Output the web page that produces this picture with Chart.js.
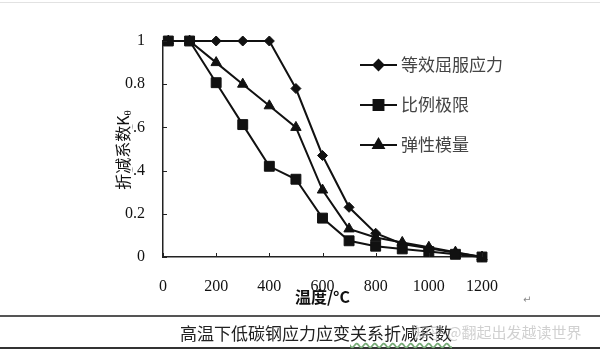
<!DOCTYPE html>
<html>
<head>
<meta charset="utf-8">
<script src="https://cdn.jsdelivr.net/npm/chart.js@4.4.1/dist/chart.umd.min.js"></script>
<style>
  html, body { margin: 0; padding: 0; background: #fff; }
  #wrap { position: relative; width: 600px; height: 354px; overflow: hidden; }
  #chart { position: absolute; left: 0; top: 0; }
  .rule { position: absolute; left: 0; width: 600px; }
  #topRule { top: 2px; height: 1px; background: #e2e2e2; }
  #midRule { top: 315px; height: 2px; background: #555; }
  #botRule { top: 347px; height: 2px; background: #333; }
  #caption {
    position: absolute; left: 180px; top: 320px; white-space: nowrap;
    font: 17px "Noto Sans CJK SC", sans-serif; color: #222;
  }
  #caption .wavy { text-decoration: underline wavy #7a7; text-underline-offset: 2px; }
  #watermark {
    position: absolute; left: 414px; top: 321px; white-space: nowrap;
    font: 15px "Noto Sans CJK SC", sans-serif; color: rgba(170,170,170,0.55);
  }
  #para { position: absolute; left: 523px; top: 294px; font: 10px "DejaVu Sans", sans-serif; color: #888; }
</style>
</head>
<body>
<div id="wrap">
  <canvas id="chart" width="600" height="354"></canvas>
  <div class="rule" id="topRule"></div>
  <div class="rule" id="midRule"></div>
  <div class="rule" id="botRule"></div>
  <div id="caption">高温下低碳钢应力应变<span class="wavy">关系折减系数</span></div>
  <div id="watermark">知乎 @翻起出发越读世界</div>
  <div id="para">↵</div>
</div>
<script>
// ===== Data =====
const temps = [20, 100, 200, 300, 400, 500, 600, 700, 800, 900, 1000, 1100, 1200];
const yieldK = [1, 1, 1, 1, 1, 0.78, 0.47, 0.23, 0.11, 0.06, 0.04, 0.02, 0];
const propK = [1, 1, 0.807, 0.613, 0.42, 0.36, 0.18, 0.075, 0.05, 0.0375, 0.025, 0.0125, 0];
const elasticK = [1, 1, 0.9, 0.8, 0.7, 0.6, 0.31, 0.13, 0.09, 0.0675, 0.045, 0.0225, 0];
const seriesNames = ['等效屈服应力', '比例极限', '弹性模量'];
const xTitle = '温度/°C';
const yTitle = '折减系数K';

const CJK = '"Noto Sans CJK SC", sans-serif';
const SERIF = '"Liberation Serif", "DejaVu Serif", serif';

function toPoints(vals) {
  return temps.map((t, i) => ({ x: t, y: vals[i] }));
}

function makeSet(label, vals, style, radius) {
  return {
    label,
    data: toPoints(vals),
    borderColor: '#111',
    backgroundColor: '#111',
    borderWidth: 2,
    pointStyle: style,
    pointRadius: radius,
    pointBorderWidth: 1,
    pointBackgroundColor: '#111',
    pointBorderColor: '#111',
    tension: 0,
    clip: false
  };
}

// ===== Extras: inward ticks, axis titles, legend =====
const extras = {
  id: 'extras',
  afterDraw(chart) {
    const ctx = chart.ctx;
    const xs = chart.scales.x, ys = chart.scales.y;
    const area = chart.chartArea;
    ctx.save();

    // inward tick marks
    ctx.strokeStyle = '#222';
    ctx.lineWidth = 1;
    xs.ticks.forEach(t => {
      const px = Math.round(xs.getPixelForValue(t.value)) + 0.5;
      ctx.beginPath(); ctx.moveTo(px, area.bottom); ctx.lineTo(px, area.bottom - 4); ctx.stroke();
    });
    ys.ticks.forEach(t => {
      const py = Math.round(ys.getPixelForValue(t.value)) + 0.5;
      ctx.beginPath(); ctx.moveTo(area.left, py); ctx.lineTo(area.left + 4, py); ctx.stroke();
    });

    // x title
    ctx.fillStyle = '#111';
    ctx.font = 'bold 16px ' + CJK;
    ctx.textAlign = 'center';
    ctx.textBaseline = 'middle';
    ctx.fillText(xTitle, (area.left + area.right) / 2, 297);

    // y title (rotated, with subscript theta), white behind like the original
    ctx.save();
    ctx.translate(123, 150);
    ctx.rotate(-Math.PI / 2);
    ctx.font = '16px ' + CJK;
    const mainW = ctx.measureText(yTitle).width;
    ctx.font = '11px ' + SERIF;
    const subW = ctx.measureText('θ').width;
    const total = mainW + subW;
    ctx.fillStyle = '#fff';
    ctx.fillRect(-total / 2 - 1, -9, total + 2, 18);
    ctx.fillStyle = '#111';
    ctx.textAlign = 'left';
    ctx.font = '16px ' + CJK;
    ctx.fillText(yTitle, -total / 2, 0);
    ctx.font = '11px ' + SERIF;
    ctx.fillText('θ', -total / 2 + mainW, 5);
    ctx.restore();

    // legend: diamond, square, triangle
    const order = [1, 0, 2];
    order.forEach((di, k) => {
      const ds = chart.data.datasets[di];
      const y = 65 + k * 40;
      ctx.strokeStyle = '#111';
      ctx.lineWidth = 2;
      ctx.beginPath(); ctx.moveTo(360, y); ctx.lineTo(397, y); ctx.stroke();
      ctx.fillStyle = '#111';
      Chart.helpers.drawPoint(ctx, { pointStyle: ds.pointStyle, radius: ds.pointRadius, rotation: 0, borderWidth: 1 }, 378.5, y);
      ctx.fillStyle = '#444';
      ctx.font = '17px ' + CJK;
      ctx.textAlign = 'left';
      ctx.textBaseline = 'middle';
      ctx.fillText(ds.label, 401, y);
    });
    ctx.restore();
  }
};

// ===== Chart =====
new Chart(document.getElementById('chart'), {
  type: 'line',
  data: {
    datasets: [
      makeSet(seriesNames[1], propK, 'rect', 7),
      makeSet(seriesNames[0], yieldK, 'rectRot', 5),
      makeSet(seriesNames[2], elasticK, 'triangle', 6)
    ]
  },
  options: {
    responsive: false,
    animation: false,
    events: [],
    layout: { padding: { left: 103, right: 118, top: 41, bottom: 37 } },
    plugins: { legend: { display: false }, tooltip: { enabled: false } },
    scales: {
      x: {
        type: 'linear', min: 0, max: 1200,
        ticks: { stepSize: 200, padding: 20, maxRotation: 0, color: '#111', font: { family: SERIF, size: 16 }, callback: v => String(v) },
        grid: { display: false, drawTicks: false },
        border: { color: '#222', width: 1.5 },
        afterFit(s) { s.height = 60; }
      },
      y: {
        min: 0, max: 1,
        ticks: { stepSize: 0.2, padding: 18, color: '#111', font: { family: SERIF, size: 16 }, callback: v => String(+v.toFixed(1)) },
        grid: { display: false, drawTicks: false },
        border: { color: '#222', width: 1.5 },
        afterFit(s) { s.width = 60; }
      }
    }
  },
  plugins: [extras]
});
</script>
</body>
</html>
